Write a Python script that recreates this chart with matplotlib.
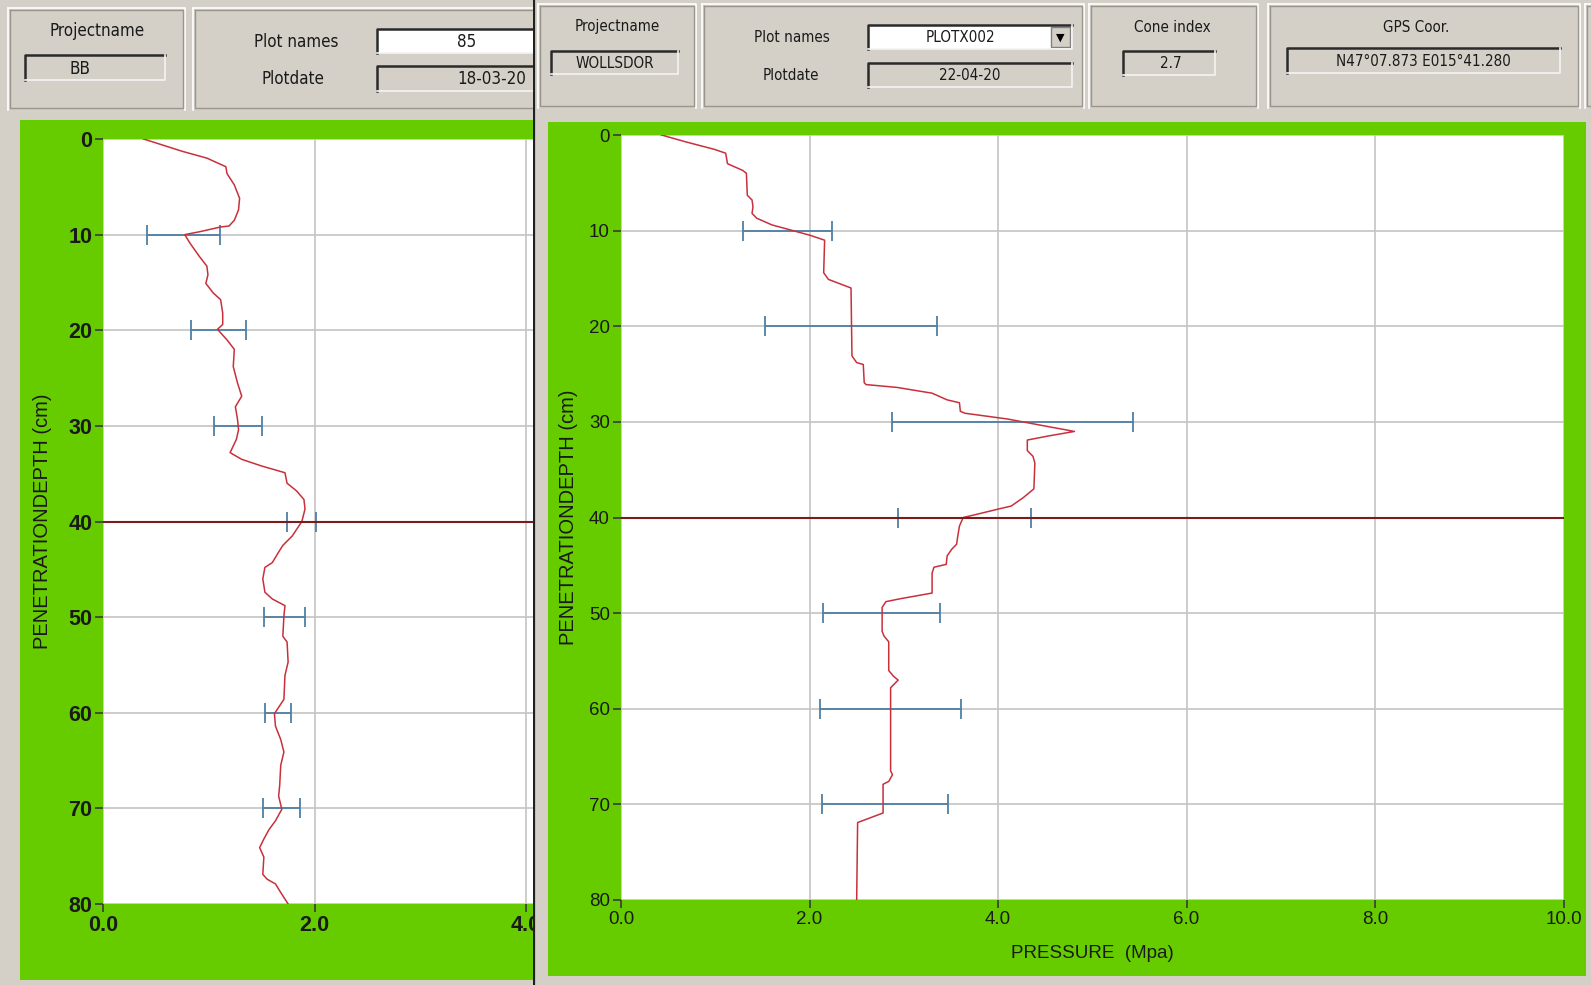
import matplotlib
matplotlib.use('Agg')
import matplotlib.pyplot as plt
from matplotlib import font_manager
from matplotlib.patches import Rectangle

# penetrometer profile, left screen (project BB, plot 85)
left_depth = [0, 1.3, 2, 2.9, 3.6, 4.8, 6.2, 7.4, 8.5, 9.1, 9.2, 9.7, 10.0, 10.9, 12.3,
              13.3, 14.2, 15.1, 16.1, 16.8, 18.2, 19.4, 19.9, 21, 22, 23.8, 25.5, 26.9, 28, 29.3,
              30.4, 31.4, 32.8, 33.5, 34.2, 34.9, 36, 36.8, 37.7, 38.7, 40, 41.5, 42.5, 43.2, 44.3,
              44.8, 46, 47.4, 48.1, 48.8, 49.9, 52, 52.6, 54.7, 56.1, 58.6, 59.1, 60.1, 61.4, 62.8,
              64.1, 65.5, 67.6, 68.7, 70.1, 71.3, 72.2, 73.2, 74.1, 75.1, 76.9, 77.4, 77.9, 78.8, 80]
left_pressure = [0.38, 0.75, 0.98, 1.16, 1.17, 1.24, 1.29, 1.28, 1.24, 1.19, 1.11, 0.91, 0.77, 0.82, 0.91,
                 0.98, 0.99, 0.97, 1.04, 1.11, 1.13, 1.13, 1.08, 1.17, 1.24, 1.23, 1.27, 1.31, 1.25, 1.27,
                 1.28, 1.26, 1.20, 1.31, 1.50, 1.72, 1.74, 1.83, 1.90, 1.91, 1.88, 1.79, 1.70, 1.66, 1.60,
                 1.53, 1.51, 1.53, 1.60, 1.72, 1.71, 1.70, 1.74, 1.75, 1.72, 1.71, 1.68, 1.62, 1.63, 1.68,
                 1.71, 1.68, 1.67, 1.66, 1.69, 1.63, 1.57, 1.52, 1.48, 1.52, 1.51, 1.55, 1.63, 1.68, 1.75]

# right screen (project WOLLSDOR, PLOTX002)
right_depth = [0, 0.7, 1.5, 1.9, 3.0, 3.7, 4.0, 6.3, 6.8, 7.5, 8.2, 8.7, 9.4, 9.8, 10.5,
               11.0, 14.4, 15.1, 15.7, 16.0, 23.1, 23.8, 24.0, 25.9, 26.1, 26.4, 27.0, 27.7, 28.0, 28.9,
               29.1, 29.7, 30.4, 31.0, 31.5, 31.9, 33.0, 33.6, 34.3, 37.0, 37.9, 38.8, 39.1, 39.7, 40.0,
               40.9, 42.1, 42.8, 43.3, 44.0, 44.9, 45.2, 45.8, 47.9, 48.5, 48.8, 49.4, 51.3, 51.9, 52.4,
               53.0, 56.0, 56.6, 57.0, 57.8, 66.5, 66.9, 67.6, 67.9, 70.9, 71.9, 80]
right_pressure = [0.43, 0.68, 0.99, 1.11, 1.13, 1.29, 1.33, 1.34, 1.39, 1.40, 1.39, 1.44, 1.60, 1.75, 2.01,
                  2.16, 2.15, 2.20, 2.36, 2.44, 2.45, 2.50, 2.57, 2.58, 2.60, 2.93, 3.30, 3.46, 3.59, 3.60,
                  3.65, 4.10, 4.48, 4.81, 4.52, 4.31, 4.31, 4.37, 4.39, 4.38, 4.27, 4.14, 4.01, 3.76, 3.63,
                  3.59, 3.57, 3.56, 3.51, 3.46, 3.45, 3.32, 3.30, 3.30, 2.96, 2.81, 2.77, 2.77, 2.77, 2.79,
                  2.84, 2.84, 2.89, 2.94, 2.86, 2.86, 2.88, 2.84, 2.78, 2.78, 2.51, 2.50]

# spread bars every 10 cm
bar_depth = [10, 20, 30, 40, 50, 60, 70]
left_lo = [0.41, 0.83, 1.05, 1.74, 1.52, 1.53, 1.51]
left_hi = [1.10, 1.35, 1.50, 2.01, 1.91, 1.78, 1.86]
right_lo = [1.29, 1.53, 2.88, 2.94, 2.14, 2.11, 2.13]
right_hi = [2.24, 3.35, 5.43, 4.35, 3.38, 3.61, 3.47]

marker_depth = 40

W, H = 1591, 985
GRAY = '#d4d0c8'
GREEN = '#66cc00'
RED = '#c8303c'
BLUE = '#4f7fa3'
DARKRED = '#7a1c1c'
TXT = '#1a1a1a'
SANS = ['Liberation Sans', 'DejaVu Sans']

# the GUI uses a narrow font; take a condensed face if one is installed
installed = {(f.name, f.stretch) for f in font_manager.fontManager.ttflist}
if any(n == 'Liberation Sans Narrow' for n, _ in installed):
    NARROW, STRETCH, SHRINK = ['Liberation Sans Narrow', 'DejaVu Sans'], 'normal', 1.0
elif ('DejaVu Sans', 'condensed') in installed:
    NARROW, STRETCH, SHRINK = ['DejaVu Sans'], 'condensed', 0.87
else:
    NARROW, STRETCH, SHRINK = SANS, 'normal', 0.82

fig = plt.figure(figsize=(W / 100, H / 100), dpi=100)


def px_axes(x0, y0, x1, y1, zorder):
    return fig.add_axes([x0 / W, 1 - y1 / H, (x1 - x0) / W, (y1 - y0) / H], zorder=zorder)


def chrome(x0, x1, zorder):
    a = px_axes(x0, 0, x1, H, zorder)
    a.set_xlim(x0, x1)
    a.set_ylim(H, 0)
    a.axis('off')
    a.add_patch(Rectangle((x0, 0), x1 - x0, H, fc=GRAY, ec='none'))
    return a


def raised(a, x0, y0, x1, y1):
    a.plot([x0, x1, x1], [y0, y0, y1], color='white', lw=1.2)
    a.plot([x0, x0], [y0, y1], color='white', lw=1.2)
    a.plot([x0 + 2, x1 - 2, x1 - 2, x0 + 2, x0 + 2], [y0 + 2, y0 + 2, y1 - 2, y1 - 2, y0 + 2],
           color='#9a968e', lw=1.0)


def gui_text(a, x, y, text, size):
    a.text(x, y, text, ha='center', va='center', fontsize=size * SHRINK, family=NARROW,
           fontstretch=STRETCH, color=TXT)


def field(a, x0, y0, x1, y1, text, tx, size, fc=GRAY):
    a.add_patch(Rectangle((x0, y0), x1 - x0, y1 - y0, fc=fc, ec='none'))
    a.plot([x0, x0, x1], [y1, y0, y0], color='#2a2a2a', lw=1.8)
    a.plot([x0, x1, x1], [y1, y1, y0], color='#f4f4f4', lw=1.2)
    gui_text(a, tx, (y0 + y1) / 2 + 1, text, size)


def depth_axes(x0, y0, x1, y1, xmax, xticks, zorder, size, weight):
    ax = px_axes(x0, y0, x1, y1, zorder)
    ax.set_facecolor('white')
    ax.set_xlim(0, xmax)
    ax.set_ylim(80, 0)
    for s in ax.spines.values():
        s.set_visible(False)
    ax.set_xticks(xticks)
    ax.set_xticklabels([f'{v:.1f}' for v in xticks])
    ax.set_yticks(range(0, 81, 10))
    ax.grid(True, color='#c4c4c4', lw=1.2)
    ax.set_axisbelow(True)
    ax.tick_params(direction='out', length=6, width=1.2, color='#3a3a3a', pad=2,
                   labelsize=size, labelcolor=TXT)
    for t in ax.get_xticklabels() + ax.get_yticklabels():
        t.set_family(SANS)
        t.set_fontweight(weight)
    return ax


def draw_profile(ax, depth, pressure, lo, hi):
    ax.plot(pressure, depth, color=RED, lw=1.1, zorder=3)
    mid = [(a + b) / 2 for a, b in zip(lo, hi)]
    half = [(b - a) / 2 for a, b in zip(lo, hi)]
    ax.errorbar(mid, bar_depth, xerr=half, fmt='none', ecolor=BLUE, elinewidth=1.3,
                capsize=7, capthick=1.3, zorder=2)
    ax.axhline(marker_depth, color=DARKRED, lw=1.5, zorder=4)


# ---------- left screen ----------
cl = chrome(0, 600, 0)
raised(cl, 8, 8, 185, 110)
raised(cl, 193, 8, 620, 110)
gui_text(cl, 97, 31, 'Projectname', 14)
field(cl, 25, 55, 165, 80, 'BB', 80, 14)
gui_text(cl, 296, 42, 'Plot names', 14)
field(cl, 377, 29, 620, 53, '85', 467, 14, fc='white')
gui_text(cl, 293, 79, 'Plotdate', 14)
field(cl, 377, 66, 620, 91, '18-03-20', 492, 14)
cl.add_patch(Rectangle((20, 120), 600, 860, fc=GREEN, ec='none'))

xl0, xl1 = 103.5, 600
unit_l = 105.5
axl = depth_axes(xl0, 139, xl1, 904, (xl1 - xl0) / unit_l, [0, 2, 4], 1, 15.5, 'bold')
draw_profile(axl, left_depth, left_pressure, left_lo, left_hi)
axl.set_ylabel('PENETRATIONDEPTH (cm)', fontsize=14.5, family=SANS, color=TXT)
axl.yaxis.label.set_va('center')
axl.yaxis.set_label_coords((43 - xl0) / (xl1 - xl0), 0.5)

# ---------- right screen ----------
sep = 532.7
cr = chrome(sep, W, 2)
cr.plot([sep + 0.8, sep + 0.8], [0, H], color='#202020', lw=1.6)
raised(cr, 538, 4, 696, 108)
raised(cr, 702, 4, 1084, 108)
raised(cr, 1089, 4, 1258, 108)
raised(cr, 1268, 4, 1580, 108)
raised(cr, 1585, 4, 1620, 108)
gui_text(cr, 617, 27, 'Projectname', 12.5)
field(cr, 551, 51, 678, 74, 'WOLLSDOR', 615, 12.5)
gui_text(cr, 792, 38, 'Plot names', 12.5)
field(cr, 868, 25, 1072, 49, 'PLOTX002', 960, 12.5, fc='white')
cr.add_patch(Rectangle((1051, 27), 19, 20, fc=GRAY, ec='#808080', lw=1))
cr.text(1060.5, 37.5, '\u25bc', ha='center', va='center', fontsize=8, color='black',
        family='DejaVu Sans')
gui_text(cr, 791, 75, 'Plotdate', 12.5)
field(cr, 868, 63, 1072, 87, '22-04-20', 970, 12.5)
gui_text(cr, 1172, 27, 'Cone index', 12.5)
field(cr, 1123, 51, 1215, 75, '2.7', 1171, 12.5)
gui_text(cr, 1416, 27, 'GPS Coor.', 12.5)
field(cr, 1287, 48, 1560, 73, 'N47\u00b007.873 E015\u00b041.280', 1423, 12.5)
cr.add_patch(Rectangle((548, 122), 1038, 854, fc=GREEN, ec='none'))

xr0, xr1 = 621, 1563.7
axr = depth_axes(xr0, 135, xr1, 900, 10, [0, 2, 4, 6, 8, 10], 3, 13.5, 'normal')
draw_profile(axr, right_depth, right_pressure, right_lo, right_hi)
axr.set_ylabel('PENETRATIONDEPTH (cm)', fontsize=14.5, family=SANS, color=TXT)
axr.yaxis.label.set_va('center')
axr.yaxis.set_label_coords((569 - xr0) / (xr1 - xr0), 0.5)
axr.set_xlabel('PRESSURE  (Mpa)', fontsize=13.5, family=SANS, color=TXT)
axr.xaxis.set_label_coords(0.5, -(945 - 900) / 765)

fig.savefig('out.png', dpi=100, facecolor=GRAY)
